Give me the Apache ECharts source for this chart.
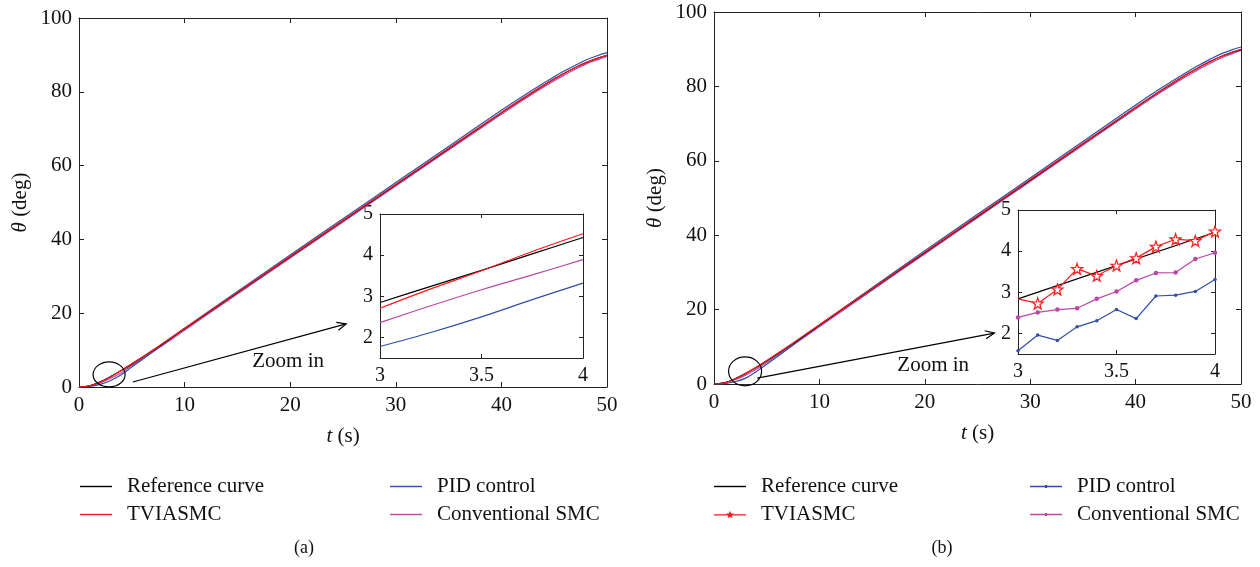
<!DOCTYPE html>
<html>
<head>
<meta charset="utf-8">
<script src="https://cdn.jsdelivr.net/npm/echarts@6/dist/echarts.min.js"></script>
<style>
  html, body { margin: 0; padding: 0; background: #fff; }
  #chart { width: 1260px; height: 567px; }
</style>
</head>
<body>
<div id="chart"></div>
<script>
// ---- data -------------------------------------------------------------
// full-run sample times (s)
const tMain = [0, 1, 2, 3, 4, 5, 7.5, 10, 15, 20, 25, 30, 35, 40, 42.5, 45, 46, 47, 48, 49, 50];
// reference trajectory θ (deg), shared by both panels
const refCurve = [0, 0.35, 1.4, 2.85, 4.45, 6.2, 10.9, 15.8, 25.55, 35.3, 45.05, 54.8, 64.55, 74.3, 79.0, 83.5, 85.1, 86.6, 87.9, 89.0, 89.9];
// panel (a)
const tviA = [0, 0.3, 1.3, 2.71, 4.52, 6.3, 11.0, 15.9, 25.7, 35.45, 45.2, 54.95, 64.7, 74.4, 79.1, 83.5, 85.1, 86.6, 87.9, 89.0, 89.9];
const pidA = [0, 0.15, 0.7, 1.78, 3.32, 5.4, 10.6, 15.9, 25.9, 35.8, 45.6, 55.4, 65.2, 75.0, 79.7, 84.1, 85.7, 87.2, 88.6, 89.7, 90.6];
const smcA = [0, 0.25, 1.1, 2.36, 3.89, 5.8, 10.5, 15.4, 25.2, 34.95, 44.7, 54.45, 64.2, 73.9, 78.6, 83.0, 84.6, 86.1, 87.5, 88.6, 89.6];
// panel (b)
const tviB = [0, 0.3, 1.35, 2.84, 4.48, 6.3, 11.0, 15.9, 25.7, 35.45, 45.2, 54.95, 64.7, 74.4, 79.1, 83.5, 85.1, 86.6, 87.9, 89.0, 90.0];
const pidB = [0, 0.1, 0.6, 1.58, 3.31, 5.3, 10.5, 15.8, 25.9, 35.8, 45.6, 55.4, 65.2, 75.0, 79.7, 84.1, 85.7, 87.2, 88.6, 89.7, 90.6];
const smcB = [0, 0.25, 1.15, 2.39, 3.96, 5.8, 10.5, 15.4, 25.2, 34.95, 44.7, 54.45, 64.2, 73.9, 78.6, 83.0, 84.6, 86.1, 87.5, 88.6, 89.7];

// zoomed window 3–4 s, panel (a)
const tZoomA = [3, 3.25, 3.5, 3.75, 4];
const refZoomA = [2.85, 3.24, 3.63, 4.03, 4.43];
const tviZoomA = [2.71, 3.18, 3.62, 4.09, 4.52];
const pidZoomA = [1.78, 2.12, 2.50, 2.92, 3.32];
const smcZoomA = [2.36, 2.77, 3.16, 3.52, 3.89];

// zoomed window 3–4 s, panel (b), sampled every 0.1 s
const tZoomB = [3, 3.1, 3.2, 3.3, 3.4, 3.5, 3.6, 3.7, 3.8, 3.9, 4];
const tRefZoomB = [3, 4];
const refZoomB = [2.84, 4.46];
const tviZoomB = [2.84, 2.73, 3.07, 3.57, 3.40, 3.65, 3.83, 4.11, 4.29, 4.25, 4.48];
const pidZoomB = [1.58, 1.96, 1.83, 2.16, 2.31, 2.58, 2.36, 2.91, 2.93, 3.02, 3.31];
const smcZoomB = [2.39, 2.51, 2.58, 2.61, 2.84, 3.02, 3.29, 3.47, 3.48, 3.81, 3.96];

const names = ['Reference curve', 'TVIASMC', 'PID control', 'Conventional SMC'];
const yTicksZoom = [2, 3, 4, 5];

// ---- styling ----------------------------------------------------------
const FONT = "'Liberation Serif', 'Times New Roman', serif";
const C_REF = '#000000', C_TVI = '#ff1a1a', C_PID = '#2f4fa8', C_SMC = '#b847a8';
const AXIS = '#222';
const ZOOM_LABEL_SIZE = 20, ZOOM_LABEL_MARGIN = 7;

const pair = (t, v) => t.map((x, i) => [x, v[i]]);

// star outline used as a marker (5 points)
function starPath(cx, cy, R, r) {
  let d = '';
  for (let k = 0; k < 10; k++) {
    const rad = k % 2 === 0 ? R : r;
    const a = -Math.PI / 2 + k * Math.PI / 5;
    d += (k === 0 ? 'M' : 'L') + (cx + rad * Math.cos(a)).toFixed(2) + ',' + (cy + rad * Math.sin(a)).toFixed(2);
  }
  return d + 'Z';
}
function dotPath(cx, cy, r) {
  let d = '';
  for (let k = 0; k < 12; k++) {
    const a = k * Math.PI / 6;
    d += (k === 0 ? 'M' : 'L') + (cx + r * Math.cos(a)).toFixed(2) + ',' + (cy + r * Math.sin(a)).toFixed(2);
  }
  return d + 'Z';
}
const STAR = 'path://' + starPath(50, 52, 50, 20);
const ICON_LINE = 'path://M0,-0.7L32,-0.7L32,0.7L0,0.7Z';
const ICON_LINE_STAR = 'path://M0,-0.7L32,-0.7L32,0.7L0,0.7Z' + starPath(16, 0, 4.2, 1.8);
const ICON_LINE_DOT = 'path://M0,-0.7L32,-0.7L32,0.7L0,0.7Z' + dotPath(16, 0, 1.6);

// box-style axes: labelled bottom/left plus mirrored top/right with inward ticks
function xAxes(grid, min, max, interval, tickLen, labelSize, withName) {
  const base = {
    type: 'value', gridIndex: grid, min, max, interval,
    splitLine: { show: false },
    axisLine: { onZero: false, lineStyle: { color: AXIS, width: 1 } },
    axisTick: { inside: true, length: tickLen, lineStyle: { color: AXIS } }
  };
  const bottom = Object.assign({}, base, {
    position: 'bottom',
    axisLabel: { color: '#111', fontFamily: FONT, fontSize: labelSize, margin: 8, hideOverlap: false }
  });
  if (withName) {
    Object.assign(bottom, {
      name: '{i|t} (s)', nameLocation: 'middle', nameGap: 39,
      nameTextStyle: { color: '#111', fontFamily: FONT, fontSize: 21,
        rich: { i: { fontStyle: 'italic', fontFamily: FONT, fontSize: 21, color: '#111' } } }
    });
  }
  const top = Object.assign({}, base, { position: 'top', axisLabel: { show: false } });
  return [bottom, top];
}
// zoom windows: y from 1.5, labelled and ticked only at the whole numbers
function yAxes(grid, min, max, interval, tickLen, labelSize, withName, custom) {
  const base = {
    type: 'value', gridIndex: grid, min, max,
    splitLine: { show: false },
    axisLine: { onZero: false, lineStyle: { color: AXIS, width: 1 } },
    axisTick: { inside: true, length: tickLen, lineStyle: { color: AXIS } }
  };
  if (custom) {
    base.axisTick.customValues = custom;
  } else {
    base.interval = interval;
  }
  const left = Object.assign({}, base, {
    position: 'left',
    axisLabel: { color: '#111', fontFamily: FONT, fontSize: labelSize,
      margin: custom ? ZOOM_LABEL_MARGIN : 7,
      showMinLabel: true, showMaxLabel: true, hideOverlap: false }
  });
  if (custom) left.axisLabel.customValues = custom;
  if (withName) {
    Object.assign(left, {
      name: '{i|θ} (deg)', nameLocation: 'middle', nameGap: 48,
      nameTextStyle: { color: '#111', fontFamily: FONT, fontSize: 21,
        rich: { i: { fontStyle: 'italic', fontFamily: FONT, fontSize: 21, color: '#111' } } }
    });
  }
  const right = Object.assign({}, base, { position: 'right', axisLabel: { show: false } });
  return [left, right];
}

function mainLine(name, x, y, color, xi, yi) {
  return {
    name, type: 'line', xAxisIndex: xi, yAxisIndex: yi,
    data: pair(x, y), smooth: 0.35, symbol: 'none', showSymbol: false,
    lineStyle: { color, width: 1.2 }, itemStyle: { color },
    emphasis: { disabled: true }, z: 3
  };
}

const grids = [
  { left: 79, top: 18, width: 528, height: 369 },   // (a) full run
  { left: 380, top: 214, width: 203, height: 144 }, // (a) zoom window
  { left: 714, top: 12, width: 527, height: 372 },  // (b) full run
  { left: 1018, top: 210, width: 197, height: 144 } // (b) zoom window
];

const xAxis = [
  ...xAxes(0, 0, 50, 10, 5, 21, true),
  ...xAxes(1, 3, 4, 0.5, 4, ZOOM_LABEL_SIZE, false),
  ...xAxes(2, 0, 50, 10, 5, 21, true),
  ...xAxes(3, 3, 4, 0.5, 4, ZOOM_LABEL_SIZE, false)
];
const yAxis = [
  ...yAxes(0, 0, 100, 20, 5, 21, true),
  ...yAxes(1, 1.5, 5, null, 4, ZOOM_LABEL_SIZE, false, yTicksZoom),
  ...yAxes(2, 0, 100, 20, 5, 21, true),
  ...yAxes(3, 1.5, 5, null, 4, ZOOM_LABEL_SIZE, false, yTicksZoom)
];

const series = [
  // (a) full run
  mainLine(names[3], tMain, smcA, C_SMC, 0, 0),
  mainLine(names[2], tMain, pidA, C_PID, 0, 0),
  mainLine(names[0], tMain, refCurve, C_REF, 0, 0),
  mainLine(names[1], tMain, tviA, C_TVI, 0, 0),
  // (a) zoom window
  mainLine(names[3], tZoomA, smcZoomA, C_SMC, 2, 2),
  mainLine(names[2], tZoomA, pidZoomA, C_PID, 2, 2),
  mainLine(names[0], tZoomA, refZoomA, C_REF, 2, 2),
  mainLine(names[1], tZoomA, tviZoomA, C_TVI, 2, 2),
  // (b) full run
  mainLine(names[3], tMain, smcB, C_SMC, 4, 4),
  mainLine(names[2], tMain, pidB, C_PID, 4, 4),
  mainLine(names[0], tMain, refCurve, C_REF, 4, 4),
  mainLine(names[1], tMain, tviB, C_TVI, 4, 4),
  // (b) zoom window, sampled with markers
  { name: names[3], type: 'line', xAxisIndex: 6, yAxisIndex: 6, data: pair(tZoomB, smcZoomB),
    symbol: 'circle', symbolSize: 4.5, lineStyle: { color: C_SMC, width: 1.2 },
    itemStyle: { color: C_SMC }, emphasis: { disabled: true }, z: 6 },
  { name: names[2], type: 'line', xAxisIndex: 6, yAxisIndex: 6, data: pair(tZoomB, pidZoomB),
    symbol: 'circle', symbolSize: 3.5, lineStyle: { color: C_PID, width: 1.2 },
    itemStyle: { color: C_PID }, emphasis: { disabled: true }, z: 6 },
  { name: names[0], type: 'line', xAxisIndex: 6, yAxisIndex: 6, data: pair(tRefZoomB, refZoomB),
    symbol: 'none', lineStyle: { color: C_REF, width: 1.2 },
    itemStyle: { color: C_REF }, emphasis: { disabled: true }, z: 6 },
  { name: names[1], type: 'line', xAxisIndex: 6, yAxisIndex: 6,
    data: pair(tZoomB, tviZoomB).map((p, i) => i === 0 ? { value: p, symbol: 'none' } : p),
    symbol: STAR, symbolSize: 11, lineStyle: { color: C_TVI, width: 1.2 },
    itemStyle: { color: '#fff', borderColor: C_TVI, borderWidth: 1.2 },
    emphasis: { disabled: true }, z: 7 }
];

function legendCol(left, top, items, icons) {
  return {
    left, top, orient: 'vertical', selectedMode: false, padding: 0,
    itemWidth: 32, itemHeight: 10, itemGap: 7,
    textStyle: { fontFamily: FONT, fontSize: 21, color: '#111', padding: [0, 0, 0, 10], lineHeight: 20 },
    itemStyle: { borderWidth: 0 },
    data: items.map((n, i) => ({ name: n, icon: icons[i] }))
  };
}

const legend = [
  legendCol(80, 476, [names[0], names[1]], [ICON_LINE, ICON_LINE]),
  legendCol(390, 476, [names[2], names[3]], [ICON_LINE, ICON_LINE]),
  legendCol(714, 476, [names[0], names[1]], [ICON_LINE, ICON_LINE_STAR]),
  legendCol(1030, 476, [names[2], names[3]], [ICON_LINE_DOT, ICON_LINE_DOT])
];

const chart = echarts.init(document.getElementById('chart'), null, { renderer: 'canvas' });
chart.setOption({
  animation: false,
  backgroundColor: '#fff',
  grid: grids,
  xAxis, yAxis, series, legend
});

// ---- annotations: zoom ellipse, arrow to the zoom window, captions ----
function px(grid, p) { return chart.convertToPixel({ gridIndex: grid }, p); }
function arrow(grid, from, to) {
  const a = px(grid, from), b = px(grid, to);
  const ang = Math.atan2(b[1] - a[1], b[0] - a[0]);
  const L = 10, w = 0.42;
  const h1 = [b[0] - L * Math.cos(ang - w), b[1] - L * Math.sin(ang - w)];
  const h2 = [b[0] - L * Math.cos(ang + w), b[1] - L * Math.sin(ang + w)];
  return [
    { type: 'line', shape: { x1: a[0], y1: a[1], x2: b[0], y2: b[1] },
      style: { stroke: '#000', lineWidth: 1.2 }, z: 1 },
    { type: 'polyline', shape: { points: [h1, b, h2] },
      style: { stroke: '#000', lineWidth: 1.2, fill: null }, z: 1 }
  ];
}
function ellipse(grid, center, rx, ry) {
  const c = px(grid, center);
  return { type: 'ellipse', shape: { cx: c[0], cy: c[1], rx, ry },
    style: { stroke: '#000', lineWidth: 1.2, fill: null }, z: 10 };
}
function label(grid, at, text, size) {
  const c = px(grid, at);
  return { type: 'text', x: c[0], y: c[1],
    style: { text, fontFamily: FONT, fontSize: size, fill: '#111', align: 'center', verticalAlign: 'middle' }, z: 10 };
}

// Is an axis tick label with this text actually shown in the given pixel box?
function tickLabelShown(text, box) {
  let shown = false;
  try {
    const walk = (el, hidden) => {
      const h = hidden || el.ignore || el.invisible;
      if (el.type === 'text' && el.style && String(el.style.text) === text && !h) {
        const r = el.getBoundingRect().clone();
        r.applyTransform(el.getComputedTransform());
        const cx = r.x + r.width / 2, cy = r.y + r.height / 2;
        if (cx > box[0] && cx < box[1] && cy > box[2] && cy < box[3]) shown = true;
      }
      if (el.isGroup) el.children().forEach(c => walk(c, h));
    };
    chart.getZr().storage.getRoots().forEach(el => walk(el, false));
  } catch (e) {
    shown = false;
  }
  return shown;
}

// Zoom-window y labels that the axis did not display get drawn at the axis's own positions
function missingZoomLabels(grid, xMin) {
  const out = [];
  yTicksZoom.forEach(v => {
    const p = px(grid, [xMin, v]);
    const box = [p[0] - 30, p[0], p[1] - 10, p[1] + 10];
    if (!tickLabelShown(String(v), box)) {
      out.push({ type: 'text', x: p[0] - ZOOM_LABEL_MARGIN, y: p[1],
        style: { text: String(v), fontFamily: FONT, fontSize: ZOOM_LABEL_SIZE, fill: '#111',
          align: 'right', verticalAlign: 'middle' }, z: 10 });
    }
  });
  return out;
}

chart.setOption({
  graphic: [
    ellipse(0, [2.85, 3.4], 16, 12.5),
    ...arrow(0, [5.1, 1.35], [25.3, 17.1]),
    label(0, [19.8, 7.0], 'Zoom in', 21),
    ellipse(2, [2.95, 3.4], 16.5, 14.5),
    ...arrow(2, [4.1, 1.6], [26.6, 13.7]),
    label(2, [20.8, 4.9], 'Zoom in', 21),
    ...missingZoomLabels(1, 3),
    ...missingZoomLabels(3, 3),
    { type: 'text', x: 304, y: 548, style: { text: '(a)', fontFamily: FONT, fontSize: 18, fill: '#111', align: 'center', verticalAlign: 'middle' } },
    { type: 'text', x: 942, y: 548, style: { text: '(b)', fontFamily: FONT, fontSize: 18, fill: '#111', align: 'center', verticalAlign: 'middle' } }
  ]
});
</script>
</body>
</html>
